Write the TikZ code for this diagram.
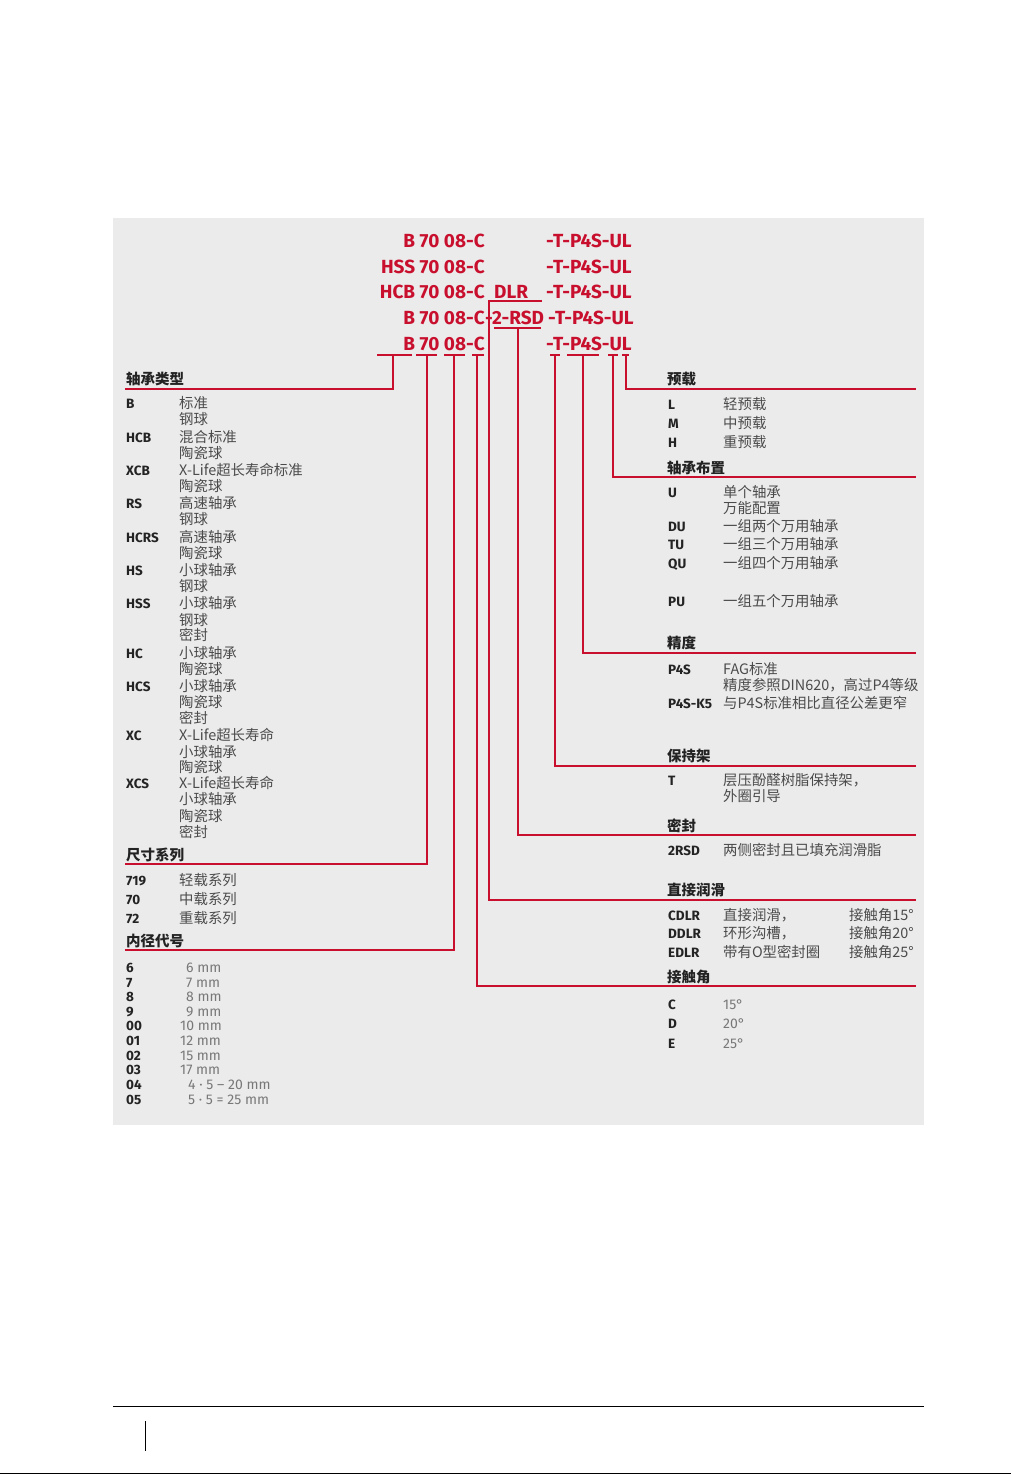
\documentclass[tikz,border=0pt]{standalone}
\usepackage{fontspec}
\setmainfont{Fira Sans}
\newfontfamily\cjk{Noto Sans CJK SC}
\definecolor{fagred}{RGB}{200,16,46}
\definecolor{panel}{RGB}{235,235,235}
\definecolor{txt}{RGB}{35,35,35}
\definecolor{dtxt}{RGB}{75,75,75}
\definecolor{vtxt}{RGB}{120,120,120}
\begin{document}
\begin{tikzpicture}[x=1pt,y=-1pt,
 code/.style={font=\fontsize{19}{19}\selectfont\bfseries, text=fagred, inner sep=0pt},
 hd/.style={font=\cjk\fontsize{14.5}{14.5}\selectfont\bfseries, text=txt, anchor=base west, inner sep=0pt},
 key/.style={font=\fontsize{13.5}{13.5}\selectfont\bfseries, text=txt, anchor=base west, inner sep=0pt},
 dsc/.style={font=\cjk\fontsize{14.4}{14.4}\selectfont, text=dtxt, anchor=base west, inner sep=0pt},
 vl/.style={font=\fontsize{14}{14}\selectfont, text=vtxt, anchor=base west, inner sep=0pt},
 link/.style={draw=fagred, line width=1.8pt, line join=miter}]
\useasboundingbox (0,0) rectangle (1011,1475);
\fill[white] (0,0) rectangle (1011,1475);
\fill[panel] (113,218) rectangle (924,1125);

% ---- code rows
\node[code, anchor=base east] (r1a) at (485,247) {B 70 08-C};
\node[code, anchor=base west] (r1b) at (546,247) {-T-P4S-UL};
\node[code, anchor=base east] (r2a) at (485,273) {HSS 70 08-C};
\node[code, anchor=base west] (r2b) at (546,273) {-T-P4S-UL};
\node[code, anchor=base east] (r3a) at (485,298) {HCB 70 08-C};
\node[code, anchor=base west] (r3m) at (494,298) {DLR};
\node[code, anchor=base west] (r3b) at (546,298) {-T-P4S-UL};
\node[code, anchor=base east] (r4a) at (485,324) {B 70 08-C};
\node[code, anchor=base west] (r4m) at (485,324) {-2-RSD};
\node[code, anchor=base west] (r4b) at (548,324) {-T-P4S-UL};
\node[code, anchor=base east] (r5a) at (485,350) {B 70 08-C};
\node[code, anchor=base west] (r5b) at (546,350) {-T-P4S-UL};

% ---- bracket coordinates
\coordinate (sB1) at (377,355); \coordinate (sB2) at (412,355); \coordinate (sBm) at (393,355); \coordinate (sBc) at (393,389); \coordinate (hB) at (125,389);
\coordinate (s71) at (416,355); \coordinate (s72) at (437,355); \coordinate (s7m) at (427,355); \coordinate (s7c) at (427,864); \coordinate (h7) at (125,864);
\coordinate (s81) at (444,355); \coordinate (s82) at (465,355); \coordinate (s8m) at (454,355); \coordinate (s8c) at (454,950); \coordinate (h8) at (125,950);
\coordinate (sC1) at (472,355); \coordinate (sC2) at (484,355); \coordinate (sCm) at (477,355); \coordinate (sCc) at (477,986); \coordinate (hC) at (916,986);
\coordinate (sD1) at (542,301); \coordinate (sDm) at (489,301); \coordinate (sDc) at (489,900); \coordinate (hD) at (916,900);
\coordinate (sR1) at (494,328); \coordinate (sR2) at (541,328); \coordinate (sRm) at (518,328); \coordinate (sRc) at (518,835); \coordinate (hR) at (916,835);
\coordinate (sT1) at (550,355); \coordinate (sT2) at (560,355); \coordinate (sTm) at (555,355); \coordinate (sTc) at (555,766); \coordinate (hT) at (916,766);
\coordinate (sP1) at (567,355); \coordinate (sP2) at (599,355); \coordinate (sPm) at (583,355); \coordinate (sPc) at (583,653); \coordinate (hP) at (916,653);
\coordinate (sU1) at (608,355); \coordinate (sU2) at (618,355); \coordinate (sUm) at (613,355); \coordinate (sUc) at (613,477); \coordinate (hU) at (916,477);
\coordinate (sL1) at (622,355); \coordinate (sL2) at (629,355); \coordinate (sLm) at (626,355); \coordinate (sLc) at (626,389); \coordinate (hL) at (916,389);

\draw[link] (sB1) -- (sB2); \draw[link] (sBm) -- (sBc) -- (hB);
\draw[link] (s71) -- (s72); \draw[link] (s7m) -- (s7c) -- (h7);
\draw[link] (s81) -- (s82); \draw[link] (s8m) -- (s8c) -- (h8);
\draw[link] (sC1) -- (sC2); \draw[link] (sCm) -- (sCc) -- (hC);
\draw[link] (sD1) -- (sDm) -- (sDc) -- (hD);
\draw[link] (sR1) -- (sR2); \draw[link] (sRm) -- (sRc) -- (hR);
\draw[link] (sT1) -- (sT2); \draw[link] (sTm) -- (sTc) -- (hT);
\draw[link] (sP1) -- (sP2); \draw[link] (sPm) -- (sPc) -- (hP);
\draw[link] (sU1) -- (sU2); \draw[link] (sUm) -- (sUc) -- (hU);
\draw[link] (sL1) -- (sL2); \draw[link] (sLm) -- (sLc) -- (hL);

% ---- left column: bearing type
\node[hd] (h1) at (126,384) {轴承类型};
\foreach \y/\k [count=\i] in {408/B,442/HCB,475/XCB,508/RS,542/HCRS,575/HS,608/HSS,658/HC,691/HCS,740/XC,788/XCS}
  \node[key] (tk\i) at (126,\y) {\k};
\foreach \y/\d [count=\i] in {408/标准,424/钢球,442/混合标准,458/陶瓷球,475/X-Life超长寿命标准,491/陶瓷球,508/高速轴承,524/钢球,542/高速轴承,558/陶瓷球,575/小球轴承,591/钢球,608/小球轴承,625/钢球,640/密封,658/小球轴承,674/陶瓷球,691/小球轴承,707/陶瓷球,723/密封,740/X-Life超长寿命,757/小球轴承,772/陶瓷球,788/X-Life超长寿命,804/小球轴承,821/陶瓷球,837/密封}
  \node[dsc] (td\i) at (179,\y) {\d};

% ---- size series
\node[hd] (h2) at (126,860) {尺寸系列};
\node[key] (sk1) at (126,885) {719}; \node[dsc] (sd1) at (179,885) {轻载系列};
\node[key] (sk2) at (126,904) {70};  \node[dsc] (sd2) at (179,904) {中载系列};
\node[key] (sk3) at (126,923) {72};  \node[dsc] (sd3) at (179,923) {重载系列};

% ---- bore code
\node[hd] (h3) at (126,946) {内径代号};
\foreach \y/\k/\x/\v [count=\i] in {972/6/186/6 mm,987/7/186/7 mm,1001/8/186/8 mm,1016/9/186/9 mm,1030/00/180/10 mm,1045/01/180/12 mm,1060/02/180/15 mm,1074/03/180/17 mm,1089/04/188/4 · 5 – 20 mm,1104/05/188/5 · 5 = 25 mm}
  {\node[key] (bk\i) at (126,\y) {\k}; \node[vl] (bv\i) at (\x,\y) {\v};}

% ---- right column: preload
\node[hd] (h4) at (667,384) {预载};
\node[key] (pk1) at (668,409) {L}; \node[dsc] (pd1) at (723,409) {轻预载};
\node[key] (pk2) at (668,428) {M}; \node[dsc] (pd2) at (723,428) {中预载};
\node[key] (pk3) at (668,447) {H}; \node[dsc] (pd3) at (723,447) {重预载};

% ---- arrangement
\node[hd] (h5) at (667,473) {轴承布置};
\node[key] (ak1) at (668,497) {U};  \node[dsc] (ad1) at (723,497) {单个轴承};
\node[dsc] (ad1b) at (723,513) {万能配置};
\node[key] (ak2) at (668,531) {DU}; \node[dsc] (ad2) at (723,531) {一组两个万用轴承};
\node[key] (ak3) at (668,549) {TU}; \node[dsc] (ad3) at (723,549) {一组三个万用轴承};
\node[key] (ak4) at (668,568) {QU}; \node[dsc] (ad4) at (723,568) {一组四个万用轴承};
\node[key] (ak5) at (668,606) {PU}; \node[dsc] (ad5) at (723,606) {一组五个万用轴承};

% ---- precision
\node[hd] (h6) at (667,648) {精度};
\node[key] (ck1) at (668,674) {P4S};    \node[dsc] (cd1) at (723,674) {FAG标准};
\node[dsc] (cd1b) at (723,690) {精度参照DIN620，高过P4等级};
\node[key] (ck2) at (668,708) {P4S-K5}; \node[dsc] (cd2) at (723,708) {与P4S标准相比直径公差更窄};

% ---- cage
\node[hd] (h7) at (667,761) {保持架};
\node[key] (gk1) at (668,785) {T}; \node[dsc] (gd1) at (723,785) {层压酚醛树脂保持架，};
\node[dsc] (gd1b) at (723,801) {外圈引导};

% ---- seal
\node[hd] (h8) at (667,831) {密封};
\node[key] (ek1) at (668,855) {2RSD}; \node[dsc] (ed1) at (723,855) {两侧密封且已填充润滑脂};

% ---- direct lubrication
\node[hd] (h9) at (667,895) {直接润滑};
\node[key] (lk1) at (668,920) {CDLR}; \node[dsc] (ld1) at (723,920) {直接润滑，}; \node[dsc] (la1) at (849,920) {接触角15°};
\node[key] (lk2) at (668,938) {DDLR}; \node[dsc] (ld2) at (723,938) {环形沟槽，}; \node[dsc] (la2) at (849,938) {接触角20°};
\node[key] (lk3) at (668,957) {EDLR}; \node[dsc] (ld3) at (723,957) {带有O型密封圈}; \node[dsc] (la3) at (849,957) {接触角25°};

% ---- contact angle
\node[hd] (h10) at (667,982) {接触角};
\node[key] (nk1) at (668,1009) {C}; \node[vl] (nv1) at (723,1009) {15°};
\node[key] (nk2) at (668,1028) {D}; \node[vl] (nv2) at (723,1028) {20°};
\node[key] (nk3) at (668,1048) {E}; \node[vl] (nv3) at (723,1048) {25°};

% ---- footer
\coordinate (f1) at (113,1406); \coordinate (f2) at (924,1406);
\coordinate (f3) at (145,1421); \coordinate (f4) at (145,1451);
\coordinate (f5) at (0,1473.5); \coordinate (f6) at (1011,1473.5);
\draw[line width=1pt] (f1) -- (f2);
\draw[line width=1pt] (f3) -- (f4);
\draw[line width=1.5pt] (f5) -- (f6);
\end{tikzpicture}
\end{document}
